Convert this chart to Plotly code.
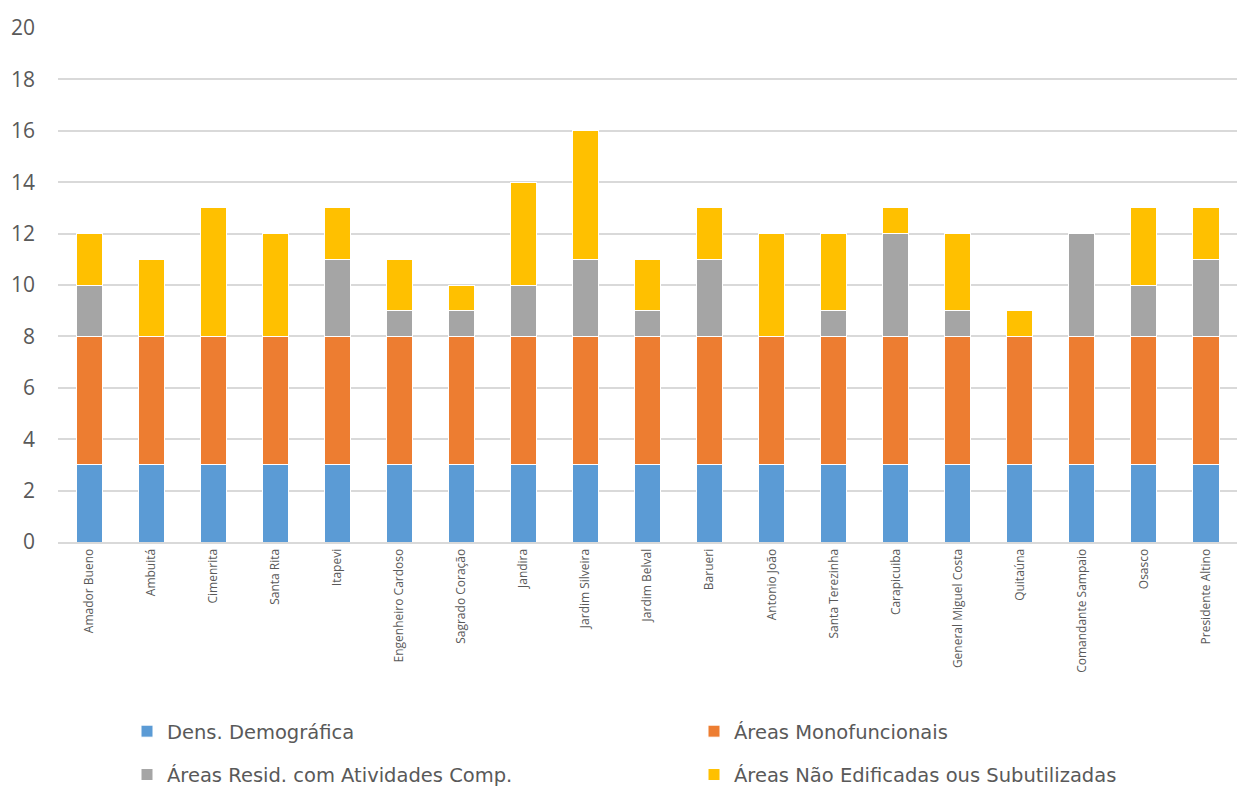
import plotly.graph_objects as go

categories = ["Amador Bueno", "Ambuitá", "Cimenrita", "Santa Rita", "Itapevi",
              "Engenheiro Cardoso", "Sagrado Coração", "Jandira", "Jardim Silveira",
              "Jardim Belval", "Barueri", "Antonio João", "Santa Terezinha",
              "Carapicuiba", "General Miguel Costa", "Quitaúna", "Comandante Sampaio",
              "Osasco", "Presidente Altino"]
dens_demografica = [3] * 19
areas_monofuncionais = [5] * 19
areas_resid = [2, 0, 0, 0, 3, 1, 1, 2, 3, 1, 3, 0, 1, 4, 1, 0, 4, 2, 3]
areas_nao_edificadas = [2, 3, 5, 4, 2, 2, 1, 4, 5, 2, 2, 4, 3, 1, 3, 1, 0, 3, 2]

series = [
    ("Dens. Demográfica", dens_demografica, "#5B9BD5", "legend"),
    ("Áreas Monofuncionais", areas_monofuncionais, "#ED7D31", "legend2"),
    ("Áreas Resid. com Atividades Comp.", areas_resid, "#A5A5A5", "legend"),
    ("Áreas Não Edificadas ous Subutilizadas", areas_nao_edificadas, "#FFC000", "legend2"),
]

fig = go.Figure()
for i, (name, vals, color, lg) in enumerate(series):
    fig.add_trace(go.Bar(x=categories, y=vals, name=name, legend=lg, legendgroup=f"g{i}",
                         marker=dict(color=color, line=dict(color="white", width=1))))

leg_common = dict(orientation="v", xref="container", yref="container",
                  xanchor="left", yanchor="top", y=(788 - 712) / 788,
                  font=dict(family="DejaVu Sans, sans-serif", size=19.5, color="#595959"),
                  traceorder="grouped", itemwidth=30, tracegroupgap=15,
                  bgcolor="rgba(0,0,0,0)")

fig.update_layout(
    barmode="stack",
    bargap=0.58,
    width=1237, height=788,
    margin=dict(l=58, r=0, t=28, b=246, autoexpand=False),
    paper_bgcolor="white", plot_bgcolor="white",
    font=dict(family="Open Sans, DejaVu Sans, sans-serif", color="#595959"),
    showlegend=True,
    legend=dict(x=127 / 1237, **leg_common),
    legend2=dict(x=694 / 1237, **leg_common),
)
fig.update_xaxes(tickangle=-90, tickfont=dict(size=12, color="#595959"),
                 showline=True, linecolor="#d9d9d9", linewidth=2, ticks="",
                 showgrid=False)
fig.update_yaxes(range=[0, 20], dtick=2,
                 tickfont=dict(family="Open Sans, sans-serif", size=21, color="#595959"),
                 showgrid=True, gridcolor="#d9d9d9", gridwidth=1.5,
                 zeroline=False, ticks="", ticklabelstandoff=22)

fig.write_html("out.html")
